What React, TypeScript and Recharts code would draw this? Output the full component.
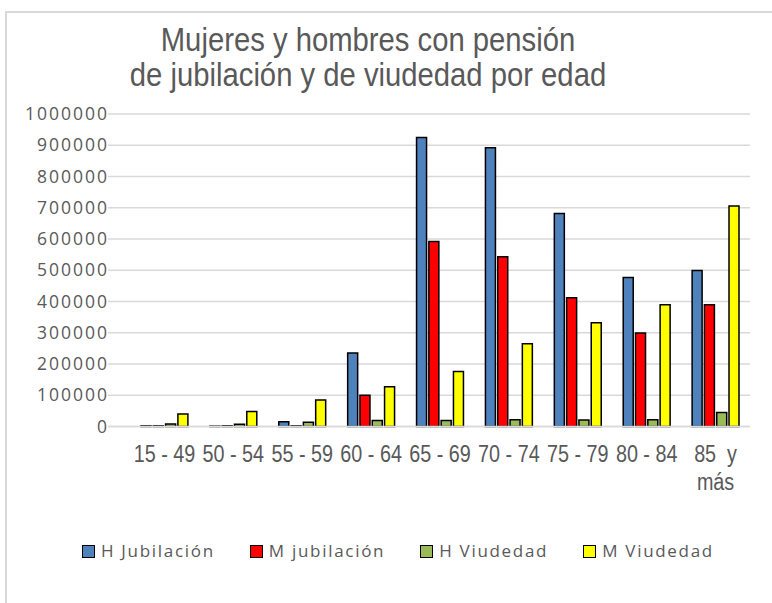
import React from 'react';
import { BarChart, Bar, XAxis, YAxis, CartesianGrid, Legend } from 'recharts';

const categorias = ['15 - 49', '50 - 54', '55 - 59', '60 - 64', '65 - 69', '70 - 74', '75 - 79', '80 - 84', '85 y más'];
const hJubilacion = [2000, 1000, 15000, 235000, 925000, 892000, 682000, 477000, 499000];
const mJubilacion = [2000, 2000, 2000, 100000, 592000, 543000, 412000, 299000, 390000];
const hViudedad = [8000, 7000, 14000, 19000, 19000, 22000, 21000, 22000, 45000];
const mViudedad = [40000, 48000, 85000, 127000, 176000, 265000, 332000, 390000, 706000];
const yTicks = [0, 100000, 200000, 300000, 400000, 500000, 600000, 700000, 800000, 900000, 1000000];

const series = [
  { key: 'hJub', name: 'H Jubilación', color: '#4F81BD' },
  { key: 'mJub', name: 'M jubilación', color: '#FF0000' },
  { key: 'hViu', name: 'H Viudedad', color: '#9BBB59' },
  { key: 'mViu', name: 'M Viudedad', color: '#FFFF00' },
];

const data = categorias.map((cat, i) => ({
  cat,
  hJub: hJubilacion[i],
  mJub: mJubilacion[i],
  hViu: hViudedad[i],
  mViu: mViudedad[i],
}));

const textColor = '#595959';
const gridColor = '#D9D9D9';
const narrowFont = "'Liberation Sans Narrow', 'Liberation Sans', Arial";

const XTick = (props: any) => {
  const { x, y, payload } = props;
  const value: string = payload.value;
  const lines = value.includes('más') ? ['85  y', 'más'] : [value];
  return (
    <g transform={`translate(${x},${y}) scale(0.86,1)`}>
      {lines.map((line, i) => (
        <text
          key={i}
          x={0}
          y={28 + i * 28}
          textAnchor="middle"
          fill={textColor}
          fontFamily={narrowFont}
          fontSize={23}
          style={{ whiteSpace: 'pre' }}
        >
          {line}
        </text>
      ))}
    </g>
  );
};

const YTick = (props: any) => {
  const { x, y, payload } = props;
  return (
    <text
      x={x + 1}
      y={y}
      dy={6}
      textAnchor="end"
      fill={textColor}
      fontFamily="'Open Sans', sans-serif"
      fontSize={17.5}
      letterSpacing={2}
    >
      {payload.value}
    </text>
  );
};

const renderLegend = () => (
  <div style={{ display: 'flex', alignItems: 'center', gap: 35, height: 24 }}>
    {series.map((s) => (
      <div key={s.key} style={{ display: 'flex', alignItems: 'center' }}>
        <span
          style={{
            display: 'inline-block',
            width: 11,
            height: 11,
            background: s.color,
            border: '1.5px solid #000',
            marginRight: 6,
          }}
        />
        <span
          style={{
            fontFamily: "'Open Sans', sans-serif",
            fontSize: 17,
            letterSpacing: 1.7,
            color: textColor,
            lineHeight: '24px',
            whiteSpace: 'nowrap',
          }}
        >
          {s.name}
        </span>
      </div>
    ))}
  </div>
);

const App = () => {
  return (
    <div style={{ position: 'absolute', left: 0, top: 0, width: 772, height: 603, overflow: 'hidden', background: '#fff' }}>
      <div
        style={{
          position: 'absolute',
          left: 5,
          top: 11,
          width: 820,
          height: 640,
          border: `2px solid ${gridColor}`,
        }}
      />
      <div
        style={{
          position: 'absolute',
          left: 68,
          top: 22,
          width: 600,
          textAlign: 'center',
          fontFamily: narrowFont,
          fontSize: 34,
          lineHeight: '35px',
          color: textColor,
          whiteSpace: 'nowrap',
          transform: 'scaleX(0.86)',
          transformOrigin: 'center',
        }}
      >
        <div>Mujeres y hombres con pensión</div>
        <div>de jubilación y de viudedad por edad</div>
      </div>
      <div style={{ position: 'absolute', left: 0, top: 0 }}>
        <BarChart
          width={772}
          height={603}
          data={data}
          margin={{ top: 114, right: 22, left: 0, bottom: 82.5 }}
          barSize={10}
          barGap={2.3}
        >
          <CartesianGrid vertical={false} stroke={gridColor} strokeWidth={1.5} />
          <XAxis
            dataKey="cat"
            interval={0}
            tickLine={false}
            axisLine={{ stroke: gridColor, strokeWidth: 1.5 }}
            padding={{ left: 22, right: 0 }}
            height={70}
            tick={<XTick />}
          />
          <YAxis
            domain={[0, 1000000]}
            ticks={yTicks}
            axisLine={false}
            tickLine={false}
            tickSize={0}
            tickMargin={0}
            width={108}
            interval={0}
            tick={<YTick />}
          />
          <Legend
            content={renderLegend}
            wrapperStyle={{ position: 'absolute', left: 82, top: 539, width: 'auto' }}
          />
          {series.map((s) => (
            <Bar
              key={s.key}
              dataKey={s.key}
              name={s.name}
              fill={s.color}
              stroke="#000"
              strokeWidth={1.5}
              isAnimationActive={false}
            />
          ))}
        </BarChart>
      </div>
    </div>
  );
};

export default App;
